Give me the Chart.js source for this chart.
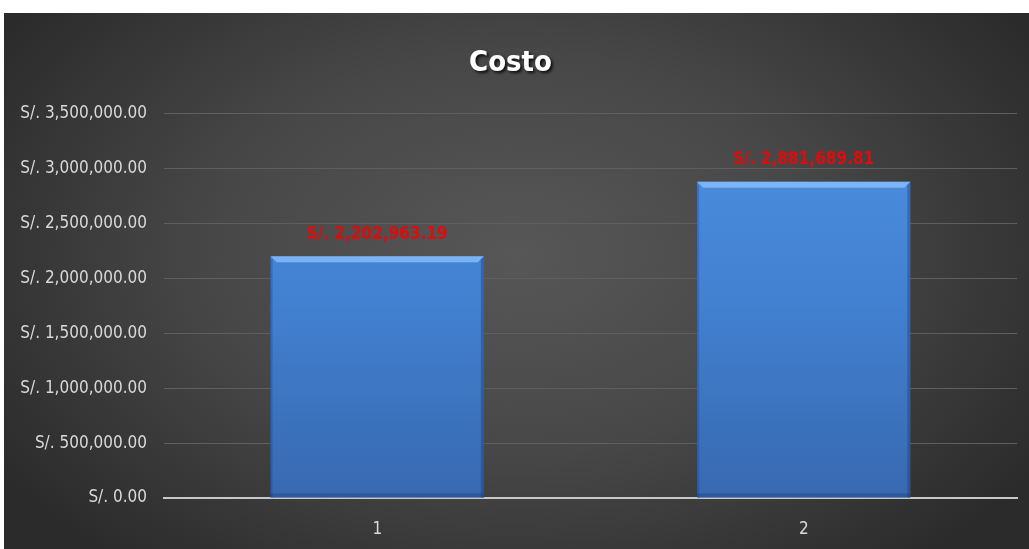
<!DOCTYPE html>
<html>
<head>
<meta charset="utf-8">
<script src="https://cdn.jsdelivr.net/npm/chart.js@4/dist/chart.umd.min.js"></script>
<style>
    html, body { margin: 0; padding: 0; background: #ffffff; }
    #wrap {
        position: absolute; left: 4px; top: 13px; width: 1025px; height: 536px;
        background: radial-gradient(ellipse 60% 75% at 50% 45%, #575757 0%, #474747 50%, #2b2b2b 100%);
    }
    canvas { display: block; }
</style>
</head>
<body>
<div id="wrap"><canvas id="costoChart" width="1025" height="536"></canvas></div>
<script>
const categories = ['1', '2'];
const costValues = [2202963.19, 2881689.81];
const yTicks = [0, 500000, 1000000, 1500000, 2000000, 2500000, 3000000, 3500000];

const FONT = "'DejaVu Sans Condensed', 'Liberation Sans', sans-serif";

function soles(v) {
    return 'S/. ' + v.toLocaleString('en-US', { minimumFractionDigits: 2, maximumFractionDigits: 2 });
}

// bevel look on the bars + red value labels
const barDecor = {
    id: 'barDecor',
    afterDatasetsDraw(chart) {
        const ctx = chart.ctx;
        const meta = chart.getDatasetMeta(0);
        meta.data.forEach((bar, i) => {
            const left = bar.x - bar.width / 2, right = bar.x + bar.width / 2;
            const top = bar.y, bottom = bar.base;
            const b = 6;
            ctx.save();
            ctx.fillStyle = 'rgba(140,195,255,0.75)';
            ctx.beginPath();
            ctx.moveTo(left, top); ctx.lineTo(right, top);
            ctx.lineTo(right - b, top + b); ctx.lineTo(left + b, top + b);
            ctx.closePath(); ctx.fill();
            ctx.fillStyle = 'rgba(20,50,110,0.35)';
            ctx.beginPath();
            ctx.moveTo(right, top); ctx.lineTo(right, bottom);
            ctx.lineTo(right - 3, bottom); ctx.lineTo(right - 3, top + 3);
            ctx.closePath(); ctx.fill();
            ctx.fillStyle = 'rgba(20,50,110,0.25)';
            ctx.fillRect(left, top + 3, 2, bottom - top - 3);
            ctx.fillStyle = 'rgba(20,50,110,0.3)';
            ctx.fillRect(left, bottom - 4, right - left, 4);

            ctx.font = 'bold 17px ' + FONT;
            ctx.fillStyle = '#e00b0b';
            ctx.textAlign = 'center';
            ctx.textBaseline = 'middle';
            ctx.fillText(soles(costValues[i]), bar.x, top - 22);
            ctx.restore();
        });
    }
};

// soft shadow behind the title
const titleShadow = {
    id: 'titleShadow',
    afterInit(chart) {
        const tb = chart.titleBlock;
        if (!tb) return;
        const orig = tb.draw.bind(tb);
        tb.draw = function () {
            const c = chart.ctx;
            c.save();
            c.shadowColor = 'rgba(0,0,0,0.8)';
            c.shadowOffsetX = 2; c.shadowOffsetY = 2; c.shadowBlur = 3;
            orig();
            c.restore();
        };
    }
};

new Chart(document.getElementById('costoChart'), {
    type: 'bar',
    data: {
        labels: categories,
        datasets: [{
            label: 'Costo',
            data: costValues,
            backgroundColor: function (context) {
                const area = context.chart.chartArea;
                if (!area) return '#4284d3';
                const g = context.chart.ctx.createLinearGradient(0, area.top, 0, area.bottom);
                g.addColorStop(0, '#4d90e0');
                g.addColorStop(0.5, '#4280d0');
                g.addColorStop(1, '#3769b0');
                return g;
            },
            borderWidth: 0,
            categoryPercentage: 1.0,
            barPercentage: 0.5
        }]
    },
    options: {
        responsive: false,
        animation: false,
        layout: { padding: { left: 0, right: 12, top: 0, bottom: 0 } },
        scales: {
            x: {
                afterFit(scale) { scale.height = 51; },
                grid: { display: false, drawTicks: false },
                border: { display: true, color: '#c8c8c8', width: 2 },
                ticks: { color: '#d9d9d9', font: { size: 17, family: FONT }, padding: 21 }
            },
            y: {
                min: 0,
                max: 3500000,
                afterFit(scale) { scale.width = 160; },
                afterBuildTicks(scale) { scale.ticks = yTicks.map(v => ({ value: v })); },
                grid: { color: '#5f5f5f', lineWidth: 1, drawTicks: false },
                border: { display: false },
                ticks: {
                    color: '#d9d9d9',
                    font: { size: 17, family: FONT },
                    padding: 17,
                    callback: v => soles(v)
                }
            }
        },
        plugins: {
            legend: { display: false },
            tooltip: { enabled: false },
            title: {
                display: true,
                text: 'Costo',
                color: '#ffffff',
                font: { size: 29, weight: 'bold', family: FONT },
                padding: { top: 33, bottom: 33 }
            }
        }
    },
    plugins: [barDecor, titleShadow]
});
</script>
</body>
</html>
